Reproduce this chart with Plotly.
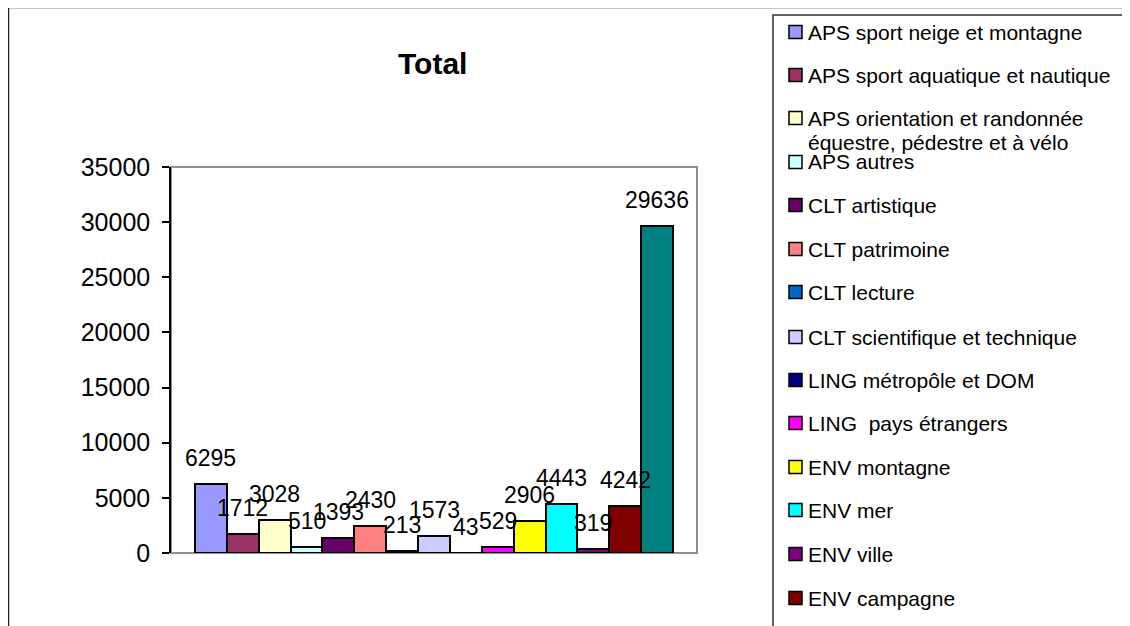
import plotly.graph_objects as go

# ---- data ----
series_names = [
    "APS sport neige et montagne",
    "APS sport aquatique et nautique",
    "APS orientation et randonnée équestre, pédestre et à vélo",
    "APS autres",
    "CLT artistique",
    "CLT patrimoine",
    "CLT lecture",
    "CLT scientifique et technique",
    "LING métropôle et DOM",
    "LING  pays étrangers",
    "ENV montagne",
    "ENV mer",
    "ENV ville",
    "ENV campagne",
    "Autre",
]
values = [6295, 1712, 3028, 510, 1393, 2430, 213, 1573, 43, 529, 2906, 4443, 319, 4242, 29636]
colors = ["#9999FF", "#993366", "#FFFFCC", "#CCFFFF", "#660066", "#FF8080", "#0066CC",
          "#CCCCFF", "#000080", "#FF00FF", "#FFFF00", "#00FFFF", "#800080", "#800000", "#008080"]
# legend text lines as shown (the last series is cut off in the original)
legend_lines = [
    ["APS sport neige et montagne"],
    ["APS sport aquatique et nautique"],
    ["APS orientation et randonnée", "équestre, pédestre et à vélo"],
    ["APS autres"],
    ["CLT artistique"],
    ["CLT patrimoine"],
    ["CLT lecture"],
    ["CLT scientifique et technique"],
    ["LING métropôle et DOM"],
    ["LING  pays étrangers"],
    ["ENV montagne"],
    ["ENV mer"],
    ["ENV ville"],
    ["ENV campagne"],
]
y_ticks = [0, 5000, 10000, 15000, 20000, 25000, 30000, 35000]
title_text = "Total"

# ---- layout geometry ----
# the page body adds an 8px offset, so the figure is 8px smaller and
# reference pixel positions are converted with that offset.
OFF = 8
W, H = 1130 - OFF, 626 - OFF
PL, PR, PT, PB = 171 - OFF, 697 - OFF, 167 - OFF, 553 - OFF
FONT = "Liberation Sans, Arial, sans-serif"


def xp(px):
    return (px - OFF - PL) / (PR - PL)


def yp(py):
    return (PB - (py - OFF)) / (PB - PT)


fig = go.Figure()
fig.add_trace(go.Bar(
    x=series_names, y=values,
    marker=dict(color=colors, line=dict(color="black", width=2)),
    width=1.0, showlegend=False, hoverinfo="x+y",
))

annotations = []
# data labels
for name, v in zip(series_names, values):
    annotations.append(dict(
        x=name, y=v, xref="x", yref="y", text=str(v), showarrow=False,
        yanchor="bottom", xanchor="center", yshift=11,
        font=dict(family=FONT, size=23, color="black"),
    ))

# title
annotations.append(dict(
    x=xp(432), y=yp(64), xref="paper", yref="paper", text="<b>%s</b>" % title_text,
    showarrow=False, xanchor="center", yanchor="middle",
    font=dict(family=FONT, size=30, color="black"),
))

shapes = []
# outer chart frame
shapes.append(dict(type="rect", xref="paper", yref="paper",
                   x0=xp(8.5), x1=xp(1160), y0=yp(7.5), y1=yp(660),
                   line=dict(color="#202020", width=1.5), layer="below"))
# plot area border
shapes.append(dict(type="rect", xref="paper", yref="paper",
                   x0=0, x1=1, y0=0, y1=1,
                   line=dict(color="#909090", width=2), layer="below"))
# legend box
shapes.append(dict(type="rect", xref="paper", yref="paper",
                   x0=xp(773), x1=xp(1128), y0=yp(15), y1=yp(660),
                   line=dict(color="#303030", width=1.5), layer="below"))

# legend entries
item_y = [32, 75, 118, 162, 205, 249, 292, 337, 380, 423, 467, 510, 554, 598]
for i, lines in enumerate(legend_lines):
    cy = item_y[i]
    shapes.append(dict(type="rect", xref="paper", yref="paper",
                       x0=xp(789), x1=xp(802), y0=yp(cy - 6.5), y1=yp(cy + 6.5),
                       fillcolor=colors[i], line=dict(color="black", width=1.5)))
    for j, line in enumerate(lines):
        annotations.append(dict(
            x=xp(806), y=yp(cy + j * 24), xref="paper", yref="paper", text=line,
            showarrow=False, xanchor="left", yanchor="middle",
            font=dict(family=FONT, size=21, color="black"),
        ))

fig.update_layout(
    width=W, height=H,
    margin=dict(l=PL, r=W - PR, t=PT, b=H - PB, pad=0),
    paper_bgcolor="white", plot_bgcolor="white",
    showlegend=False,
    bargap=0,
    xaxis=dict(type="category", range=[-1.253, 15.253], showticklabels=False,
               ticks="", showgrid=False, zeroline=False, showline=False,
               fixedrange=True),
    yaxis=dict(range=[0, 35000], tickvals=y_ticks, ticktext=[str(t) for t in y_ticks],
               ticks="outside", ticklen=7, tickwidth=1.5, tickcolor="black",
               showline=True, linecolor="black", linewidth=1.5,
               showgrid=False, zeroline=False, ticklabelstandoff=7,
               tickfont=dict(family=FONT, size=25, color="black"), fixedrange=True),
    annotations=annotations,
    shapes=shapes,
    font=dict(family=FONT),
)

fig.write_html("out.html")
